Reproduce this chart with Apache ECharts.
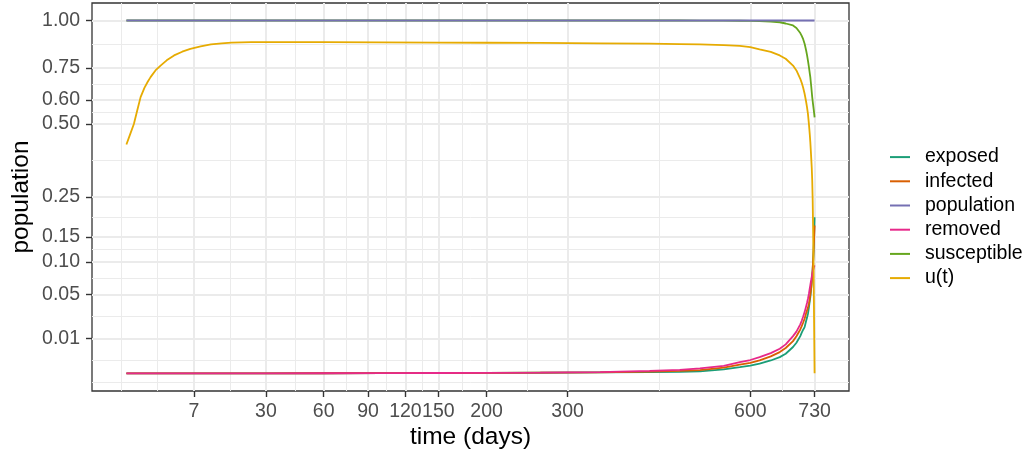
<!DOCTYPE html>
<html><head><meta charset="utf-8">
<script src="https://cdn.jsdelivr.net/npm/echarts@6/dist/echarts.min.js"></script>
<style>html,body{margin:0;padding:0;background:#fff}#c{width:1028px;height:455px}</style>
</head><body><div id="c"></div>
<script>
// time in days
const time = [0, 0.02, 0.086, 0.18, 0.31, 0.5, 0.7, 0.9, 1.3, 1.8,
  2.5, 3.5, 4.8, 6.3, 8.5, 11, 14, 17, 24, 30,
  60, 100, 150, 200, 264, 346, 422, 472, 507, 550,
  580, 600, 618, 640, 658, 670, 685, 692, 700, 703,
  706, 709, 712, 714, 716, 718, 719, 720, 721, 722,
  723, 724, 725, 726, 727, 728, 729, 730];
const exposed = [1e-6, 1e-6, 1e-6, 1e-6, 1e-6, 1e-6, 1e-6, 1e-6, 1e-6, 1e-6,
  1e-6, 1e-6, 1e-6, 1e-6, 1e-6, 1e-6, 1e-6, 1e-6, 1e-6, 1e-6,
  1.5e-6, 2e-6, 3e-6, 5e-6, 7e-6, 1.2e-5, 1.8e-5, 2.8e-5, 4.2e-5, 1.5e-4,
  3.5e-4, 5.3e-4, 8e-4, 1.4e-3, 2.2e-3, 3.2e-3, 5.7e-3, 7.7e-3, 0.0113, 0.0135,
  0.0155, 0.0174, 0.022, 0.025, 0.0288, 0.035, 0.039, 0.043, 0.047, 0.053,
  0.06, 0.067, 0.0748, 0.088, 0.104, 0.122, 0.155, 0.196];
const infected = [1e-6, 1e-6, 1e-6, 1e-6, 1e-6, 1e-6, 1e-6, 1e-6, 1e-6, 1e-6,
  1e-6, 1e-6, 1e-6, 1e-6, 1e-6, 1e-6, 1e-6, 1e-6, 1e-6, 1e-6,
  1.5e-6, 2e-6, 3e-6, 5e-6, 8e-6, 1.5e-5, 3.2e-5, 6e-5, 1.04e-4, 3e-4,
  6.5e-4, 9.5e-4, 1.41e-3, 2.4e-3, 3.74e-3, 5.3e-3, 8.5e-3, 0.0112, 0.0157, 0.0181,
  0.021, 0.0242, 0.029, 0.032, 0.035, 0.0392, 0.042, 0.046, 0.05, 0.055,
  0.06, 0.068, 0.078, 0.088, 0.103, 0.122, 0.146, 0.176];
const population = [1, 1, 1, 1, 1, 1, 1, 1, 1, 1,
  1, 1, 1, 1, 1, 1, 1, 1, 1, 1,
  1, 1, 1, 1, 1, 1, 1, 1, 1, 1,
  1, 1, 1, 1, 1, 1, 1, 1, 1, 1,
  1, 1, 1, 1, 1, 1, 1, 1, 1, 1,
  1, 1, 1, 1, 1, 1, 1, 1];
const removed = [1e-6, 1e-6, 1e-6, 1e-6, 1e-6, 1e-6, 1e-6, 1e-6, 1e-6, 1e-6,
  1e-6, 1e-6, 1e-6, 1e-6, 1e-6, 1e-6, 1e-6, 1e-6, 1e-6, 1e-6,
  1.6e-6, 2.5e-6, 4e-6, 6e-6, 9e-6, 2e-5, 6e-5, 1.2e-4, 2.25e-4, 5e-4,
  1.08e-3, 1.5e-3, 2.2e-3, 3.4e-3, 5e-3, 6.9e-3, 0.0113, 0.0142, 0.0195, 0.0225,
  0.0262, 0.0304, 0.036, 0.040, 0.045, 0.051, 0.055, 0.059, 0.063, 0.067,
  0.071, 0.075, 0.079, 0.082, 0.086, 0.089, 0.092, 0.094];
const susceptible = [0.99999, 0.99999, 0.99999, 0.99999, 0.99999, 0.99999, 0.99999, 0.99999, 0.99999, 0.99999,
  0.99999, 0.99999, 0.99999, 0.99999, 0.99999, 0.99999, 0.99999, 0.99999, 0.99999, 0.99999,
  0.99999, 0.99999, 0.99999, 0.99999, 0.99998, 0.99997, 0.9999, 0.9998, 0.9996, 0.9992,
  0.9985, 0.998, 0.997, 0.994, 0.990, 0.983, 0.972, 0.958, 0.930, 0.915,
  0.897, 0.873, 0.84, 0.815, 0.786, 0.755, 0.738, 0.721, 0.705, 0.682,
  0.66, 0.636, 0.613, 0.595, 0.578, 0.562, 0.545, 0.527];
const uControl = [0.421, 0.458, 0.50, 0.555, 0.613, 0.655, 0.683, 0.705, 0.737, 0.761,
  0.787, 0.812, 0.831, 0.846, 0.859, 0.869, 0.875, 0.879, 0.881, 0.881,
  0.881, 0.880, 0.879, 0.878, 0.877, 0.875, 0.873, 0.871, 0.869, 0.865,
  0.861, 0.855, 0.843, 0.83, 0.812, 0.795, 0.761, 0.737, 0.697, 0.678,
  0.655, 0.628, 0.595, 0.57, 0.541, 0.50, 0.478, 0.455, 0.43, 0.40,
  0.37, 0.34, 0.30, 0.24, 0.16, 0.08, 0.02, 0.000001];

const seriesNames = ['exposed', 'infected', 'population', 'removed', 'susceptible', 'u(t)'];
const seriesValues = [exposed, infected, population, removed, susceptible, uControl];
const seriesColors = ['#1B9E77', '#D95F02', '#7570B3', '#E7298A', '#66A61E', '#E6AB02'];
const seriesZ = [10, 11, 20, 13, 14, 15];

const xTicks = [7, 30, 60, 90, 120, 150, 200, 300, 600, 730];
const yTicks = [0.01, 0.05, 0.10, 0.15, 0.25, 0.50, 0.60, 0.75, 1.00];

// sqrt-transformed axes (ggplot scale_*_sqrt)
const sq = Math.sqrt;
const xMajor = xTicks.map(sq);
const yMajor = yTicks.map(sq);
const xLo = -1.351, xHi = 28.370;
const yLo = -0.049, yHi = 1.0495;

function minorBreaks(major, lo, hi) {
  const b = major.slice();
  const bd = b[1] - b[0];
  if (lo < b[0]) b.unshift(b[0] - bd);
  if (hi > b[b.length - 1]) b.push(b[b.length - 1] + bd);
  const out = [];
  for (let i = 0; i < b.length - 1; i++) out.push(b[i], (b[i] + b[i + 1]) / 2);
  out.push(b[b.length - 1]);
  return out.filter(v => v >= lo && v <= hi && !major.some(m => Math.abs(m - v) < 1e-9));
}
const xMinor = minorBreaks(xMajor, xLo, xHi);
const yMinor = minorBreaks(yMajor, yLo, yHi);

const FONT = 'Liberation Sans, Arial, Helvetica, sans-serif';
const chart = echarts.init(document.getElementById('c'), null, {renderer: 'canvas'});

const series = seriesNames.map((n, i) => ({
  name: n,
  type: 'line',
  xAxisIndex: 0, yAxisIndex: 0,
  symbol: 'none', showSymbol: false,
  color: seriesColors[i],
  itemStyle: {color: seriesColors[i]},
  lineStyle: {width: 1.8, color: seriesColors[i]},
  data: time.map((t, k) => [sq(t), sq(seriesValues[i][k])]),
  z: seriesZ[i]
}));

chart.setOption({
  animation: false,
  backgroundColor: '#fff',
  grid: {left: 92, right: 179, top: 3, bottom: 64, show: true, borderColor: '#333333', borderWidth: 1.3, backgroundColor: 'transparent', containLabel: false, outerBoundsMode: 'none'},
  legend: {
    data: seriesNames, orient: 'vertical', left: 890, top: 145, padding: 0,
    icon: 'rect', itemWidth: 20, itemHeight: 2, itemGap: 0,
    textStyle: {fontFamily: FONT, fontSize: 19.5, lineHeight: 24.2, color: '#000', padding: [0, 0, 0, 10]}
  },
  xAxis: [{
    type: 'value', min: xLo, max: xHi, position: 'bottom',
    name: 'time (days)', nameLocation: 'middle', nameGap: 34, nameMoveOverlap: false,
    nameTextStyle: {fontFamily: FONT, fontSize: 24.5, color: '#000'},
    axisLine: {show: false, onZero: false},
    axisTick: {show: true, customValues: xMajor, length: 6, lineStyle: {color: '#333333', width: 1.4}},
    axisLabel: {customValues: xMajor, formatter: v => String(Math.round(v * v)), fontFamily: FONT, fontSize: 19.5, color: '#4D4D4D', margin: 11},
    splitLine: {show: true, lineStyle: {color: '#EBEBEB', width: 2}}
  }, {
    type: 'value', min: xLo, max: xHi, position: 'bottom',
    axisLine: {show: false, onZero: false},
    axisTick: {show: false, customValues: xMinor},
    axisLabel: {show: false, customValues: xMinor},
    splitLine: {show: true, lineStyle: {color: '#EBEBEB', width: 1}}
  }],
  yAxis: [{
    type: 'value', min: yLo, max: yHi, position: 'left',
    name: 'population', nameLocation: 'middle', nameGap: 58, nameMoveOverlap: false,
    nameTextStyle: {fontFamily: FONT, fontSize: 24.5, color: '#000'},
    axisLine: {show: false, onZero: false},
    axisTick: {show: true, customValues: yMajor, length: 6, lineStyle: {color: '#333333', width: 1.4}},
    axisLabel: {customValues: yMajor, formatter: v => (v * v).toFixed(2), fontFamily: FONT, fontSize: 19.5, color: '#4D4D4D', margin: 12},
    splitLine: {show: true, lineStyle: {color: '#EBEBEB', width: 2}}
  }, {
    type: 'value', min: yLo, max: yHi, position: 'left',
    axisLine: {show: false, onZero: false},
    axisTick: {show: false, customValues: yMinor},
    axisLabel: {show: false, customValues: yMinor},
    splitLine: {show: true, lineStyle: {color: '#EBEBEB', width: 1}}
  }],
  series: series
});
</script>
</body></html>
